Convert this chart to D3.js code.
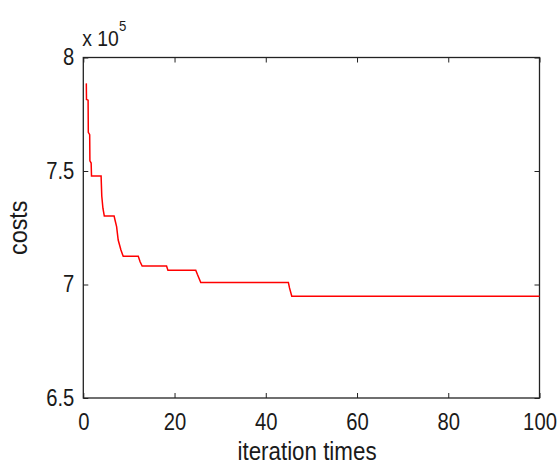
<!DOCTYPE html>
<html>
<head>
<meta charset="utf-8">
<script src="https://cdn.jsdelivr.net/npm/d3@7"></script>
<style>
  html, body { margin: 0; padding: 0; background: #fff; }
  svg { display: block; }
  text { font-family: "Liberation Sans", Arial, sans-serif; fill: #1a1a1a; }
</style>
</head>
<body>
<svg id="chart" width="557" height="466"></svg>
<script>
// Cost per iteration (vertices of the convergence curve)
const iterations = [0.66, 0.70, 1.05, 1.10, 1.40, 1.45, 1.72, 1.80, 3.90, 4.05, 4.30, 4.60,
  6.75, 6.95, 7.30, 7.65, 8.25, 8.75, 12.05, 12.45, 12.90, 18.25, 18.55, 24.65, 25.0, 25.75,
  44.95, 45.2, 45.7, 100];
const costs = [7.886, 7.815, 7.812, 7.670, 7.660, 7.545, 7.535, 7.478, 7.478, 7.390, 7.336, 7.302,
  7.302, 7.284, 7.255, 7.196, 7.152, 7.124, 7.124, 7.100, 7.081, 7.081, 7.063, 7.063, 7.045, 7.009,
  7.009, 6.985, 6.948, 6.948];

const xTicks = [0, 20, 40, 60, 80, 100];
const yTicks = [6.5, 7, 7.5, 8];
const xLabel = "iteration times";
const yLabel = "costs";

const svg = d3.select("#chart");
const plotLeft = 83.3, plotRight = 539.5, plotTop = 57.5, plotBottom = 398;

const x = d3.scaleLinear().domain([0, 100]).range([plotLeft, plotRight]);
const y = d3.scaleLinear().domain([6.5, 8]).range([plotBottom, plotTop]);

const fmt = d => String(d);
const tickLen = 5;
const squeeze = 0.88;   // narrow glyph width
const tickFont = 23;

// bottom axis with labels
const gx = svg.append("g").attr("transform", `translate(0,${plotBottom})`)
  .call(d3.axisBottom(x).tickValues(xTicks).tickFormat(fmt).tickSizeInner(-tickLen).tickSizeOuter(0).tickPadding(15.5));
// top axis, ticks only
const gxt = svg.append("g").attr("transform", `translate(0,${plotTop})`)
  .call(d3.axisTop(x).tickValues(xTicks).tickFormat("").tickSizeInner(-tickLen).tickSizeOuter(0));
// left axis with labels
const gy = svg.append("g").attr("transform", `translate(${plotLeft},0)`)
  .call(d3.axisLeft(y).tickValues(yTicks).tickFormat(fmt).tickSizeInner(-tickLen).tickSizeOuter(0).tickPadding(9));
// right axis, ticks only
const gyr = svg.append("g").attr("transform", `translate(${plotRight},0)`)
  .call(d3.axisRight(y).tickValues(yTicks).tickFormat("").tickSizeInner(-tickLen).tickSizeOuter(0));

[gx, gxt, gy, gyr].forEach(g => {
  g.select(".domain").remove();
  g.selectAll(".tick line").attr("stroke", "#222").attr("stroke-width", 1);
  g.selectAll(".tick text").attr("font-size", tickFont).attr("fill", "#1a1a1a")
    .style("font-family", '"Liberation Sans", Arial, sans-serif');
});
gx.selectAll(".tick text").attr("transform", `scale(${squeeze},1)`);
gy.selectAll(".tick text").each(function () {
  const t = d3.select(this);
  const tx = +t.attr("x");
  t.attr("x", tx / squeeze).attr("transform", `scale(${squeeze},1)`);
});

// axes box
svg.append("rect")
  .attr("x", plotLeft).attr("y", plotTop)
  .attr("width", plotRight - plotLeft).attr("height", plotBottom - plotTop)
  .attr("fill", "none").attr("stroke", "#222").attr("stroke-width", 1.3);

// cost curve
const pts = iterations.map((d, i) => [d, costs[i]]);
svg.append("path")
  .datum(pts)
  .attr("fill", "none")
  .attr("stroke", "#ff0000")
  .attr("stroke-width", 1.5)
  .attr("d", d3.line().x(d => x(d[0])).y(d => y(d[1])));

// exponent marker
const ex = svg.append("text")
  .attr("transform", `translate(${plotLeft - 1},46) scale(${squeeze},1)`)
  .attr("font-size", 22);
ex.append("tspan").text("x 10");
ex.append("tspan").attr("font-size", 15).attr("dy", -15).text("5");

// axis labels
svg.append("text")
  .attr("transform", `translate(307,460) scale(0.86,1)`)
  .attr("text-anchor", "middle").attr("font-size", 26)
  .text(xLabel);

svg.append("text")
  .attr("transform", `translate(27,${(plotTop + plotBottom) / 2}) rotate(-90) scale(0.9,1)`)
  .attr("text-anchor", "middle").attr("font-size", 26)
  .text(yLabel);
</script>
</body>
</html>
